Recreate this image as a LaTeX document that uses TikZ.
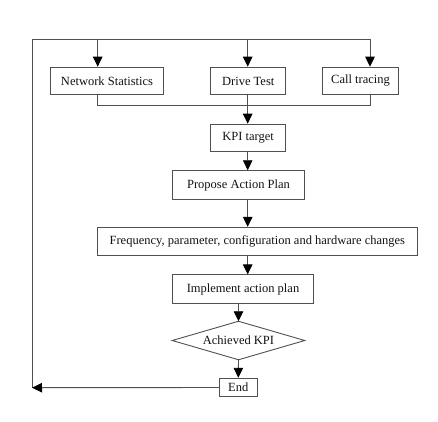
\documentclass[tikz,border=0pt]{standalone}
\usepackage{fontspec}
\setmainfont{Liberation Serif}
\usetikzlibrary{arrows.meta,shapes.geometric}
\definecolor{ln}{HTML}{505050}
\definecolor{tx}{HTML}{111111}
\tikzset{
  box/.style={draw=ln,line width=0.9pt,rectangle,inner sep=0pt,text=tx,font=\fontsize{12.5}{14}\selectfont},
  line/.style={draw=ln,line width=0.9pt},
  arr/.style={line,-{Triangle[length=10pt,width=9.5pt,color=black]}}
}
\begin{document}
\begin{tikzpicture}[x=1pt,y=-1pt]
\useasboundingbox (0,0) rectangle (438,421);
\node[box,minimum width=112.6pt,minimum height=27.7pt] (ns) at (107,81) {Network Statistics};
\node[box,minimum width=75pt,minimum height=27.7pt] (dt) at (248.2,81) {Drive Test};
\node[box,minimum width=75.6pt,minimum height=27.7pt] (ct) at (360.5,81) {Call tracing};
\node[box,minimum width=75pt,minimum height=27.7pt] (kpi) at (248.2,138) {KPI target};
\node[box,minimum width=131.6pt,minimum height=28.6pt] (pap) at (238.5,185) {Propose Action Plan};
\node[box,minimum width=320pt,minimum height=28.4pt] (freq) at (257.3,241.5) {Frequency, parameter, configuration and hardware changes};
\node[box,minimum width=140.6pt,minimum height=28.3pt] (impl) at (243,289) {Implement action plan};
\node[box,draw=none,minimum width=131.6pt,minimum height=37.6pt] (dia) at (238.5,340.5) {Achieved KPI};
\draw[line] (dia.west) -- (dia.north) -- (dia.east) -- (dia.south) -- cycle;
\node[box,minimum width=38pt,minimum height=18.4pt] (end) at (238.3,387.5) {End};
\coordinate (tl) at (32,39);
\coordinate (tr) at (370,39);
\coordinate (bl) at (32,387.7);
\coordinate (a1) at (97.7,39);
\coordinate (a2) at (247.7,39);
\coordinate (c1) at (97.7,105);
\coordinate (c3) at (370,105);
\draw[line] (bl) -- (tl) -- (tr);
\draw[arr] (a1) -- (a1 |- ns.north);
\draw[arr] (a2) -- (a2 |- dt.north);
\draw[arr] (tr) -- (tr |- ct.north);
\draw[line] (c1 |- ns.south) -- (c1) -- (c3) -- (c3 |- ct.south);
\draw[arr] (a2 |- dt.south) -- (a2 |- kpi.north);
\draw[arr] (a2 |- kpi.south) -- (a2 |- pap.north);
\draw[arr] (a2 |- pap.south) -- (a2 |- freq.north);
\draw[arr] (a2 |- freq.south) -- (a2 |- impl.north);
\draw[arr] (impl.south -| dia.north) -- (dia.north);
\draw[arr] (dia.south) -- (end.north);
\draw[arr] (end.west) -- (bl);
\end{tikzpicture}
\end{document}
